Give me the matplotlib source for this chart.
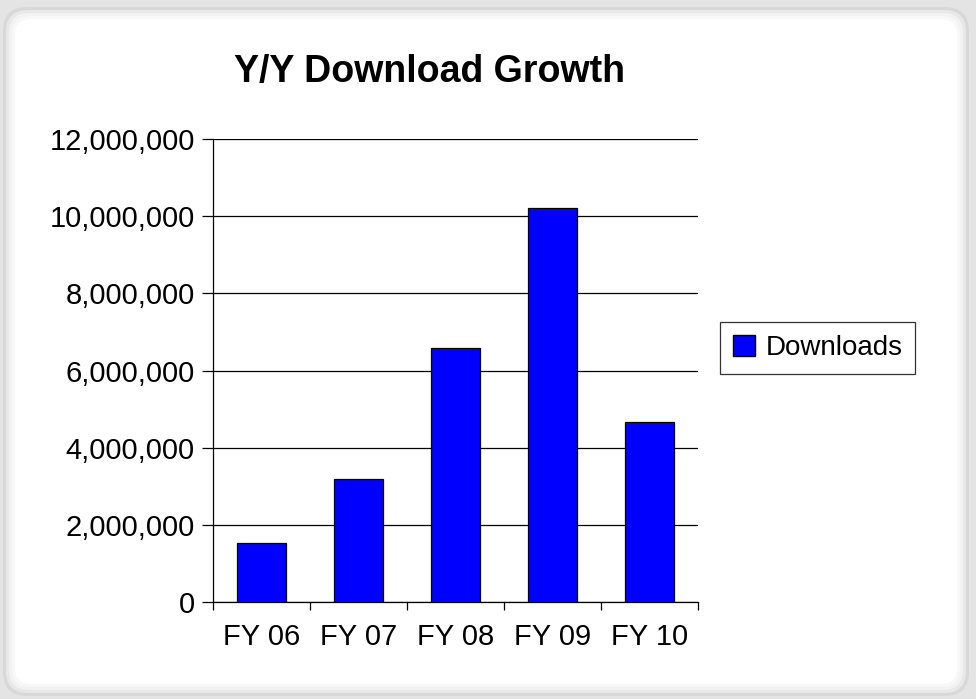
import matplotlib
matplotlib.use("Agg")
import matplotlib.pyplot as plt
import matplotlib.ticker as ticker
from matplotlib.patches import FancyBboxPatch, Patch

# ---------------------------------------------------------------------------
# Data
# ---------------------------------------------------------------------------

YEARS     = ["FY 06", "FY 07", "FY 08", "FY 09", "FY 10"]
DOWNLOADS = [1_520_000, 3_180_000, 6_590_000, 10_200_000, 4_660_000]
Y_TICKS   = [0, 2_000_000, 4_000_000, 6_000_000, 8_000_000, 10_000_000, 12_000_000]

BLUE = "#0000FF"

plt.rcParams["font.family"] = ["Liberation Sans", "DejaVu Sans"]

fig = plt.figure(figsize=(9.76, 6.99), dpi=100)
fig.patch.set_facecolor("#e4e4e4")

# rounded panel with soft shadow
W, H = 976, 699
for i, col in enumerate(["#d8d8d8", "#e8e8e8", "#f2f2f2", "#f8f8f8", "#ffffff"]):
    pad = 3 + i * 3
    fig.patches.append(FancyBboxPatch(
        (pad / W, pad / H), (W - 2 * pad - 4) / W, (H - 2 * pad - 4) / H,
        boxstyle=f"round,pad=0,rounding_size={(24 - i * 2) / W}",
        transform=fig.transFigure, facecolor=col, edgecolor="none",
        mutation_aspect=W / H, zorder=-5))

ax = fig.add_axes([213 / W, 1 - 602 / H, (698 - 213) / W, (602 - 139) / H])
ax.set_zorder(2)
ax.set_facecolor("none")

x = range(len(YEARS))
ax.bar(x, DOWNLOADS, width=0.5, color=BLUE, edgecolor="black", linewidth=0.9, zorder=3)

ax.set_xlim(-0.5, len(YEARS) - 0.5)
ax.set_ylim(0, 12_000_000)
ax.set_yticks(Y_TICKS)
ax.yaxis.set_major_formatter(ticker.FuncFormatter(lambda v, _: f"{int(v):,}"))
ax.set_xticks([i - 0.5 for i in range(len(YEARS) + 1)])
ax.set_xticklabels([])
ax.xaxis.set_minor_locator(ticker.FixedLocator(list(x)))
ax.xaxis.set_minor_formatter(ticker.FixedFormatter(YEARS))
ax.tick_params(axis="x", which="major", length=6, width=0.9, direction="out")
ax.tick_params(axis="x", which="minor", length=0, labelsize=21, pad=15)
ax.tick_params(axis="y", length=8, width=0.9, direction="out", labelsize=21, pad=5)

ax.grid(True, axis="y", color="black", linewidth=0.9, zorder=0)
for side in ("top", "right"):
    ax.spines[side].set_visible(False)
for side in ("left", "bottom"):
    ax.spines[side].set_linewidth(0.9)

fig.text(430 / W, 1 - 72 / H, "Y/Y Download Growth", fontsize=27, fontweight="bold",
         ha="center", va="center")

leg = fig.legend(handles=[Patch(facecolor=BLUE, edgecolor="black", label="Downloads")],
                 loc="center left", bbox_to_anchor=(720 / W, 1 - 348 / H),
                 borderaxespad=0, fontsize=20, frameon=True, fancybox=False,
                 handlelength=0.8, handleheight=0.8, handletextpad=0.4, borderpad=0.45)
leg.get_frame().set_edgecolor("black")
leg.get_frame().set_linewidth(0.9)

fig.savefig("out.png", dpi=100, facecolor=fig.get_facecolor())
